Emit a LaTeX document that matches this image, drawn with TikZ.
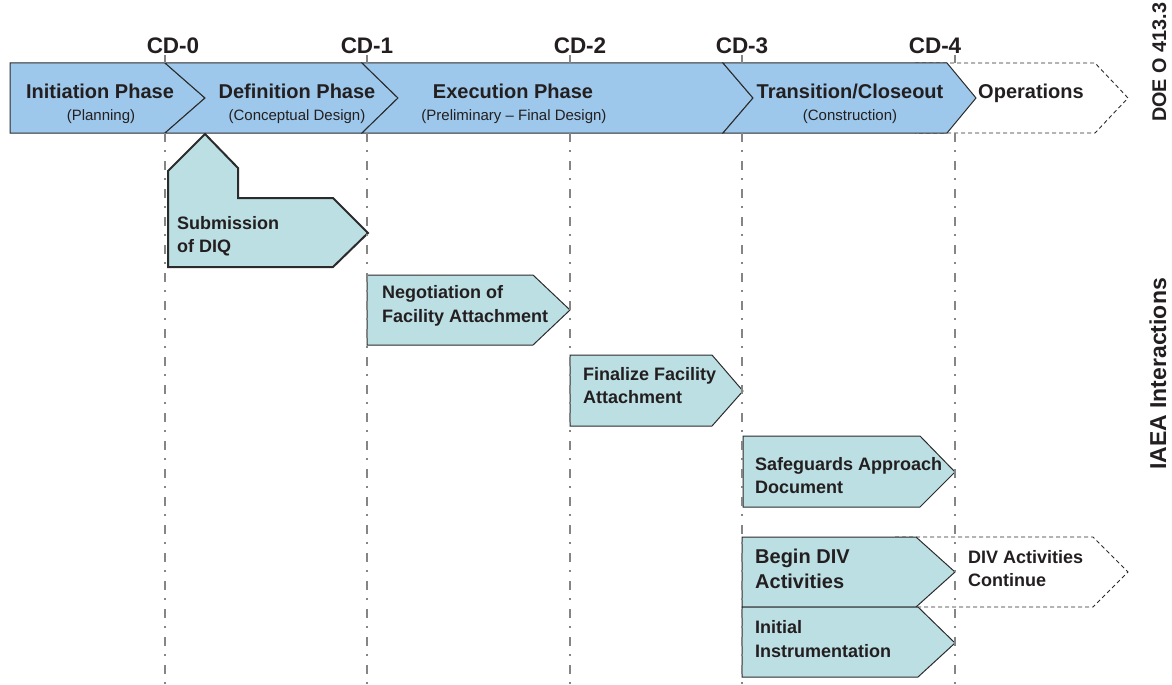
\documentclass[tikz,border=0pt]{standalone}
\usepackage{fontspec}
\setmainfont{Liberation Sans}
\definecolor{phaseblue}{HTML}{9DC8EB}
\definecolor{boxteal}{HTML}{BCDFE3}
\definecolor{ink}{HTML}{231F20}
\definecolor{edge}{HTML}{2B2B2B}
\definecolor{guide}{HTML}{858585}
\begin{document}
\begin{tikzpicture}[x=1pt,y=-1pt,
  phase/.style={fill=phaseblue,draw=edge,line width=1pt,line join=miter},
  act/.style={fill=boxteal,draw=edge,line width=1pt,line join=miter},
  future/.style={draw=edge,dash pattern=on 4pt off 3pt,line width=0.9pt},
  guideline/.style={draw=guide,line width=2pt,dash pattern=on 8.5pt off 8.5pt on 1.5pt off 9.5pt},
  tick/.style={draw=guide,line width=1.5pt},
  title/.style={font=\fontsize{20}{24}\selectfont\bfseries,text=ink,inner sep=0,anchor=base},
  sub/.style={font=\fontsize{15}{18}\selectfont,text=ink,inner sep=0,anchor=base},
  cd/.style={font=\fontsize{22.5}{26}\selectfont\bfseries,text=ink,inner sep=0,anchor=base},
  lbl/.style={font=\fontsize{18}{22}\selectfont\bfseries,text=ink,inner sep=0,anchor=base west},
  biglbl/.style={font=\fontsize{20}{24}\selectfont\bfseries,text=ink,inner sep=0,anchor=base west},
  side/.style={text=ink,inner sep=0,anchor=base west,rotate=90}]
\useasboundingbox (0,0) rectangle (1172,685);

% project phase band
\path[future] (915,63) -- (1095,63) -- (1128,98) -- (1095,133) -- (915,133);
\path[phase] (10,63) -- (165,63) -- (205,98) -- (165,133) -- (10,133) -- cycle;
\path[phase] (165,63) -- (362,63) -- (398,98) -- (362,133) -- (165,133) -- (205,98) -- cycle;
\path[phase] (362,63) -- (723,63) -- (753,98) -- (723,133) -- (362,133) -- (398,98) -- cycle;
\path[phase] (723,63) -- (947,63) -- (976,98) -- (947,133) -- (723,133) -- (753,98) -- cycle;

\node[title] (tInit) at (100,98) {Initiation Phase};
\node[sub]   (sInit) at (101,120) {(Planning)};
\node[title] (tDef)  at (297,98) {Definition Phase};
\node[sub]   (sDef)  at (297,120) {(Conceptual Design)};
\node[title] (tExec) at (513,98) {Execution Phase};
\node[sub]   (sExec) at (514,120) {(Preliminary -- Final Design)};
\node[title] (tTran) at (850,98) {Transition/Closeout};
\node[sub]   (sTran) at (850,120) {(Construction)};
\node[title] (tOps)  at (1031,98) {Operations};

% critical decisions
\node[cd] (cd0) at (173,53) {CD-0};
\node[cd] (cd1) at (367,53) {CD-1};
\node[cd] (cd2) at (580,53) {CD-2};
\node[cd] (cd3) at (742,53) {CD-3};
\node[cd] (cd4) at (935,53) {CD-4};
\foreach \x in {165,367,570,742,955} \path[tick] (\x,55) -- (\x,63);

% IAEA interaction steps
\path[act,line width=2pt] (205,134) -- (238,168) -- (238,198) -- (333,198) -- (368,233) -- (333,267) -- (168,267) -- (168,171) -- cycle;
\path[act] (367,275) -- (533,275) -- (570,310) -- (533,345) -- (367,345) -- cycle;
\path[act] (570,355) -- (712,355) -- (743,391) -- (712,426) -- (570,426) -- cycle;
\path[act] (743,436) -- (920,436) -- (955,472) -- (920,507) -- (743,507) -- cycle;
\path[future] (895,537) -- (1093,537) -- (1128,572) -- (1093,607) -- (916,607);
\path[act] (742,537) -- (916,537) -- (955,572) -- (916,607) -- (742,607) -- cycle;
\path[act] (742,607) -- (918,607) -- (955,643) -- (918,677) -- (742,677) -- cycle;

\node[lbl] (diq1) at (177,229) {Submission};
\node[lbl] (diq2) at (177,252) {of DIQ};
\node[lbl] (neg1) at (382,298) {Negotiation of};
\node[lbl] (neg2) at (382,322) {Facility Attachment};
\node[lbl] (fin1) at (583,380) {Finalize Facility};
\node[lbl] (fin2) at (583,403) {Attachment};
\node[lbl] (sad1) at (755,470) {Safeguards Approach};
\node[lbl] (sad2) at (755,493) {Document};
\node[biglbl] (div1) at (755,563) {Begin DIV};
\node[biglbl] (div2) at (755,588) {Activities};
\node[lbl] (cont1) at (968,563) {DIV Activities};
\node[lbl] (cont2) at (968,586) {Continue};
\node[lbl] (ins1) at (755,633) {Initial};
\node[lbl] (ins2) at (755,657) {Instrumentation};

% decision guide lines
\foreach \x in {165,367,570,742,955} \path[guideline] (\x,133) -- (\x,685);

% row headings
\node[side,font=\fontsize{19.8}{24}\selectfont\bfseries] (hdoe)  at (1166,122) {DOE O 413.3};
\node[side,font=\fontsize{23}{27}\selectfont\bfseries] (hiaea) at (1166,470) {IAEA Interactions};
\end{tikzpicture}
\end{document}
